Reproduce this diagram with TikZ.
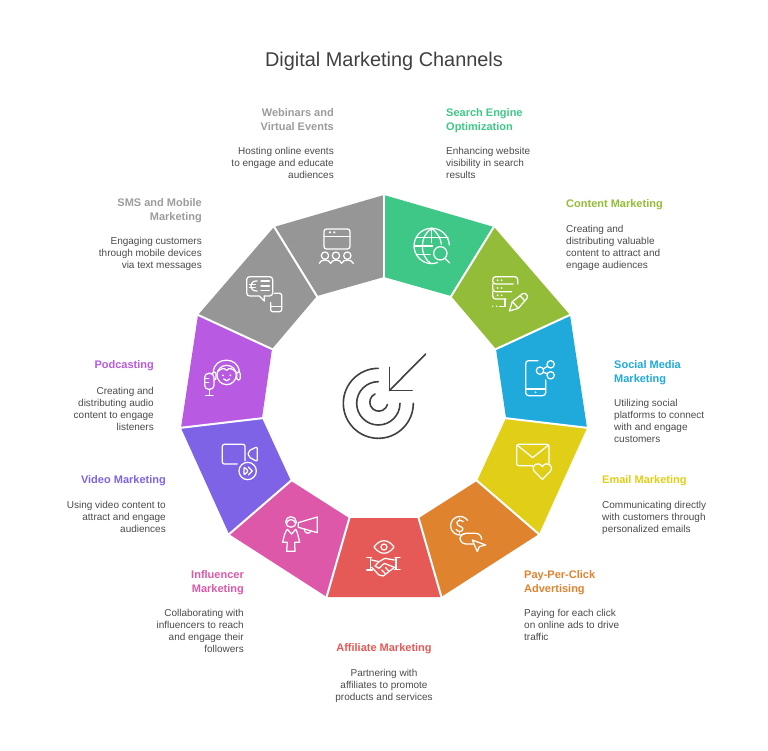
\documentclass[tikz,border=0pt]{standalone}
\usepackage{fontspec}
\setmainfont{Liberation Sans}
\definecolor{cGreen}{HTML}{3FC787}
\definecolor{cOlive}{HTML}{93BD38}
\definecolor{cBlue}{HTML}{1FAADB}
\definecolor{cYellow}{HTML}{E0CE17}
\definecolor{cOrange}{HTML}{DF832F}
\definecolor{cRed}{HTML}{E55A56}
\definecolor{cPink}{HTML}{DD58A8}
\definecolor{cViolet}{HTML}{7F63E6}
\definecolor{cPurple}{HTML}{B85AE2}
\definecolor{cGray}{HTML}{969696}
\definecolor{cHead}{HTML}{9C9C9C}
\definecolor{cBody}{HTML}{4A4A4A}
\definecolor{cIcon}{HTML}{404040}
\tikzset{
  headL/.style={anchor=north west,align=left,inner sep=0pt,font=\fontsize{11}{14}\selectfont\bfseries},
  headR/.style={anchor=north east,align=right,inner sep=0pt,font=\fontsize{11}{14}\selectfont\bfseries},
  headC/.style={anchor=north,align=center,inner sep=0pt,font=\fontsize{11}{14}\selectfont\bfseries},
  bodyL/.style={anchor=north west,align=left,inner sep=0pt,text=cBody,font=\fontsize{10}{12}\selectfont},
  bodyR/.style={anchor=north east,align=right,inner sep=0pt,text=cBody,font=\fontsize{10}{12}\selectfont},
  bodyC/.style={anchor=north,align=center,inner sep=0pt,text=cBody,font=\fontsize{10}{12}\selectfont},
  sep/.style={white,line width=2pt},
  ico/.style={draw=white,line width=1.25pt,line cap=round,line join=round},
  zA/.style={shift={(180,190)},x=0.3333pt,y=-0.3333pt},
  zB/.style={shift={(380,190)},x=0.3333pt,y=-0.3333pt},
  zC/.style={shift={(180,410)},x=0.3333pt,y=-0.3333pt},
  zD/.style={shift={(380,410)},x=0.3333pt,y=-0.3333pt},
}
\begin{document}
\begin{tikzpicture}[x=1pt,y=-1pt]
\useasboundingbox (0,0) rectangle (768,751);
% ring
\fill[cGreen]  (384,195)--(494,227)--(451,296)--(384,277)--cycle;
\fill[cOlive]  (494,227)--(570,315)--(496,349)--(451,296)--cycle;
\fill[cBlue]   (570,315)--(587,428)--(506,418)--(496,349)--cycle;
\fill[cYellow] (587,428)--(539,534)--(477,481)--(506,418)--cycle;
\fill[cOrange] (539,534)--(441,597)--(419,518)--(477,481)--cycle;
\fill[cRed]    (441,597)--(327,597)--(349,518)--(419,518)--cycle;
\fill[cPink]   (327,597)--(229,534)--(291,481)--(349,518)--cycle;
\fill[cViolet] (229,534)--(181,428)--(262,418)--(291,481)--cycle;
\fill[cPurple] (181,428)--(198,315)--(272,349)--(262,418)--cycle;
\fill[cGray]   (198,315)--(274,227)--(317,296)--(272,349)--cycle;
\fill[cGray]   (274,227)--(384,195)--(384,277)--(317,296)--cycle;
\draw[sep] (384,193)--(384,279);
\draw[sep] (495,225)--(450,298);
\draw[sep] (572,314)--(494,350);
\draw[sep] (589,428)--(504,418);
\draw[sep] (541,536)--(475,479);
\draw[sep] (442,599)--(418,516);
\draw[sep] (326,599)--(350,516);
\draw[sep] (227,536)--(293,479);
\draw[sep] (179,428)--(264,418);
\draw[sep] (196,314)--(274,350);
\draw[sep] (273,225)--(318,298);
% title
\node[inner sep=0pt,text=cIcon,font=\fontsize{19.9}{24}\selectfont] (title) at (384,61) {Digital Marketing Channels};
% labels
\node[headL,text=cGreen] (h1) at (446,108.5) {Search Engine\\Optimization};
\node[bodyL] (b1) at (446,147) {Enhancing website\\visibility in search\\results};
\node[headL,text=cOlive] (h2) at (566,199.5) {Content Marketing};
\node[bodyL] (b2) at (566,225) {Creating and\\distributing valuable\\content to attract and\\engage audiences};
\node[headL,text=cBlue] (h3) at (614,360.5) {Social Media\\Marketing};
\node[bodyL] (b3) at (614,399) {Utilizing social\\platforms to connect\\with and engage\\customers};
\node[headL,text=cYellow] (h4) at (602,475.5) {Email Marketing};
\node[bodyL] (b4) at (602,501) {Communicating directly\\with customers through\\personalized emails};
\node[headL,text=cOrange] (h5) at (524,570.5) {Pay-Per-Click\\Advertising};
\node[bodyL] (b5) at (524,609) {Paying for each click\\on online ads to drive\\traffic};
\node[headC,text=cRed] (h6) at (384,643.5) {Affiliate Marketing};
\node[bodyC] (b6) at (384,669) {Partnering with\\affiliates to promote\\products and services};
\node[headR,text=cPink] (h7) at (244,570.5) {Influencer\\Marketing};
\node[bodyR] (b7) at (244,609) {Collaborating with\\influencers to reach\\and engage their\\followers};
\node[headR,text=cViolet] (h8) at (166,475.5) {Video Marketing};
\node[bodyR] (b8) at (166,501) {Using video content to\\attract and engage\\audiences};
\node[headR,text=cPurple] (h9) at (154,360.5) {Podcasting};
\node[bodyR] (b9) at (154,387) {Creating and\\distributing audio\\content to engage\\listeners};
\node[headR,text=cHead] (h10) at (202,198.5) {SMS and Mobile\\Marketing};
\node[bodyR] (b10) at (202,237) {Engaging customers\\through mobile devices\\via text messages};
\node[headR,text=cHead] (h11) at (334,108.5) {Webinars and\\Virtual Events};
\node[bodyR] (b11) at (334,147) {Hosting online events\\to engage and educate\\audiences};
% centre target
\begin{scope}[shift={(330,340)},x=0.3333pt,y=-0.3333pt,draw=cIcon,line width=1.6pt,line cap=round,line join=round]
\draw (145,85) arc[start angle=-90,end angle=-360,radius=105];
\draw (145,125) arc[start angle=-90,end angle=-360,radius=65] ;
\draw (135,162) arc[start angle=-115,end angle=-345,radius=27];
\draw (287,42)--(178,152);
\draw (178,82)--(178,152)--(247,152);
\end{scope}
% webinar icon
\begin{scope}[zA,ico]
\draw[rounded corners=2.5pt] (432,117) rectangle (510,177);
\draw (432,140)--(510,140);
\fill[white] (450,127) circle[radius=3.5] (463,127) circle[radius=3.5];
\draw (435,197) circle[radius=11] (468,197) circle[radius=11] (502,197) circle[radius=11];
\draw (418,220) .. controls (420,207) and (449,207) .. (452,220) .. controls (455,207) and (482,207) .. (485,220) .. controls (488,207) and (516,207) .. (520,220);
\end{scope}
% sms icon
\begin{scope}[zA,ico]
\draw[rounded corners=3pt] (238,318)--(200,318)--(200,260)--(278,260)--(278,318)--(253,318);
\draw (238,318)--(253,333)--(253,318);
\draw (232,273) .. controls (206,270) and (206,306) .. (232,303);
\draw (208,284)--(226,284) (208,293)--(226,293);
\draw (243,273)--(268,273) (243,288)--(268,288) (243,302)--(268,302);
\draw[rounded corners=2pt] (272,338)--(272,365)--(305,365)--(305,310)--(283,310);
\draw (272,350)--(305,350);
\end{scope}
% podcast icon
\begin{scope}[zA,ico]
\draw (140,555) circle[radius=29];
\draw (100,548) .. controls (100,498) and (178,498) .. (178,548);
\draw[rounded corners=2pt] (97,546) rectangle (108,570);
\draw[rounded corners=2pt] (170,546) rectangle (181,570);
\draw (112,546) .. controls (122,536) and (132,532) .. (140,541) .. controls (148,532) and (158,536) .. (168,546);
\fill[white] (129,556) circle[radius=3] (151,556) circle[radius=3];
\draw (131,567) .. controls (135,574) and (145,574) .. (149,567);
\draw[rounded corners=4pt,fill=cPurple] (74,550) rectangle (102,598);
\draw (74,565)--(86,565) (74,578)--(86,578);
\draw (88,598)--(88,615) (77,616)--(99,616);
\end{scope}
% globe icon
\begin{scope}[zB,ico]
\draw (208,165) arc[start angle=-3,end angle=-290,radius=53];
\draw (155,115)--(155,158);
\draw (155,115) .. controls (118,138) and (118,198) .. (153,221);
\draw (155,115) .. controls (175,130) and (183,148) .. (184,163);
\draw (110,142)--(204,142) (103,168)--(158,168) (110,194)--(150,194);
\draw (181,190) circle[radius=20];
\draw (195,205)--(209,219);
\end{scope}
% content icon
\begin{scope}[zB,ico]
\draw[rounded corners=3pt] (413,282)--(413,260)--(338,260)--(338,282)--(400,282);
\draw[rounded corners=3pt] (338,282)--(338,305)--(395,305);
\draw[rounded corners=3pt] (338,305)--(338,327)--(378,327);
\fill[white] (353,271) circle[radius=3] (365,271) circle[radius=3] (353,294) circle[radius=3] (365,294) circle[radius=3] (353,316) circle[radius=3] (365,316) circle[radius=3] (338,349) circle[radius=2.5] (350,349) circle[radius=2.5];
\draw (358,349)--(375,349)--(375,327);
\draw (388,363)--(397,335)--(428,311) .. controls (436,306) and (446,318) .. (441,325)--(415,355)--cycle;
\draw (397,335)--(415,355) (420,317)--(435,333);
\end{scope}
% social icon
\begin{scope}[zB,ico]
\draw[rounded corners=3pt] (474,512)--(437,512)--(437,617)--(497,617)--(497,570);
\draw (437,597)--(497,597);
\fill[white] (467,607) circle[radius=3];
\draw (512,523) circle[radius=11] (480,542) circle[radius=11] (512,556) circle[radius=11];
\draw (490,537)--(502,529) (490,547)--(502,551);
\end{scope}
% email icon
\begin{scope}[zD,ico]
\draw[rounded corners=2pt] (458,167)--(410,167)--(410,103)--(507,103)--(507,160);
\draw (411,105)--(458,143)--(506,105);
\draw[fill=cYellow] (487,208)--(463,184) .. controls (450,168) and (474,150) .. (487,170) .. controls (500,150) and (524,168) .. (511,184)--cycle;
\end{scope}
% ppc icon
\begin{scope}[zD,ico]
\draw (253,372) arc[start angle=62,end angle=325,radius=28];
\draw (250,335) .. controls (240,325) and (225,335) .. (233,345) .. controls (240,350) and (252,352) .. (248,360) .. controls (244,367) and (232,365) .. (228,358);
\draw (239,325)--(239,330) (239,365)--(239,370);
\draw[rounded corners=6pt] (282,402)--(240,402)--(240,370)--(305,370)--(305,385);
\draw[fill=cOrange] (277,390)--(317,405)--(298,410)--(292,425)--cycle;
\end{scope}
% handshake/eye icon
\begin{scope}[shift={(350,500)},x=0.3333pt,y=-0.3333pt,ico]
\draw (72,141) .. controls (90,116) and (114,116) .. (132,141) .. controls (114,166) and (90,166) .. (72,141)--cycle;
\draw (102,141) circle[radius=9];
\end{scope}
\begin{scope}[shift={(355,530)},x=0.3333pt,y=-0.3333pt,ico]
\draw (35,83)--(50,83) (47,83)--(47,120) (35,120)--(52,120);
\draw (135,83)--(120,83) (123,83)--(123,118) (135,118)--(118,118);
\draw (50,90)--(72,95)--(90,85)--(118,90);
\draw (72,95)--(60,108)--(72,115)--(88,100)--(118,112);
\draw (50,112)--(72,135)--(85,138)--(118,112);
\draw (80,120)--(90,130) (92,113)--(102,124);
\end{scope}
% video icon
\begin{scope}[zC,ico]
\draw[rounded corners=2pt] (172,162)--(127,162)--(127,103)--(195,103)--(195,152);
\draw[rounded corners=2pt] (205,123)--(232,110)--(232,155)--(205,140)--cycle;
\draw (203,183) circle[radius=26];
\draw[rounded corners=1pt] (192,171)--(205,183)--(192,195)--cycle;
\draw (205,171)--(217,183)--(205,195);
\end{scope}
% influencer icon
\begin{scope}[zC,ico]
\draw (333,336) circle[radius=16];
\draw (320,340) .. controls (322,325) and (344,325) .. (346,340);
\draw (322,358)--(335,372)--(347,358);
\draw (322,358) .. controls (315,365) and (312,380) .. (308,397)--(322,397)--(320,424)--(345,424)--(344,397)--(359,397) .. controls (355,380) and (352,365) .. (347,358);
\draw (355,338)--(412,321)--(412,368)--(355,352)--cycle;
\draw (373,357) .. controls (372,373) and (393,373) .. (392,362);
\end{scope}
\end{tikzpicture}
\end{document}
